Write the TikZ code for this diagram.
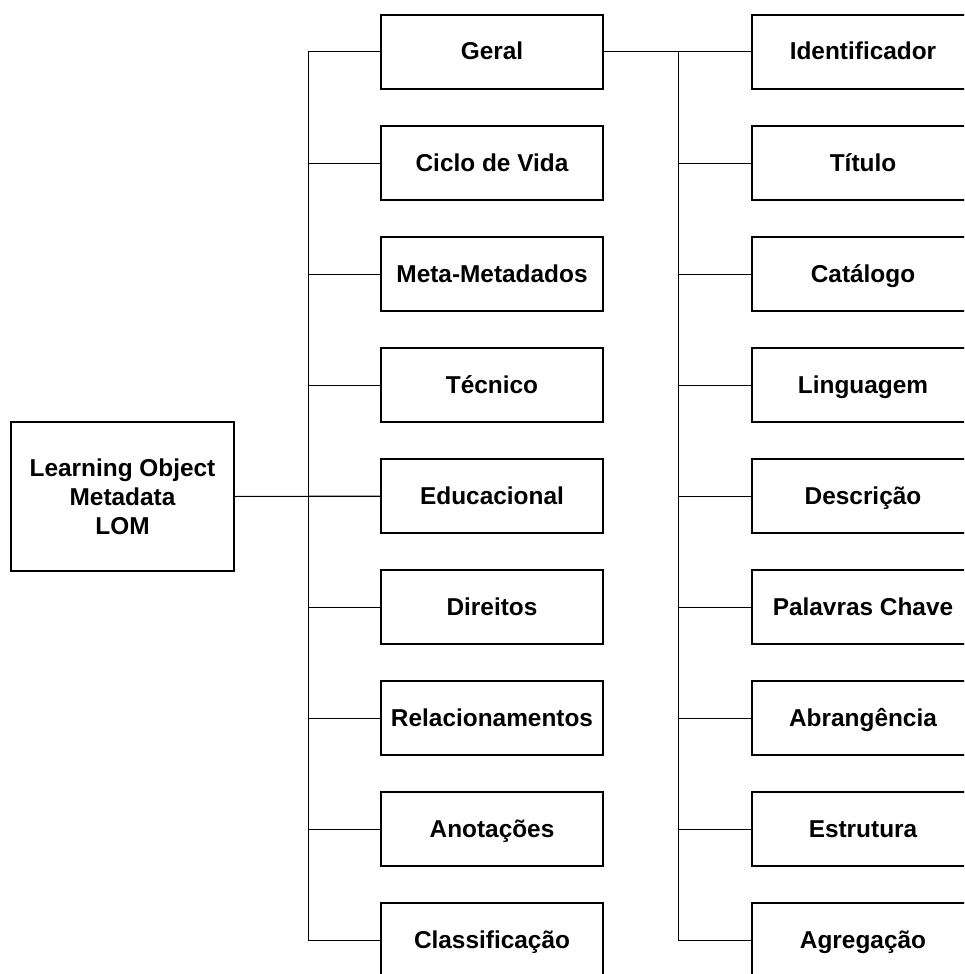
\documentclass[tikz,border=0pt]{standalone}
\usepackage{fontspec}
\setmainfont{Liberation Sans}
\usetikzlibrary{calc}

\begin{document}
\begin{tikzpicture}[x=0.75pt,y=-0.75pt,
		bloco/.style={draw,line width=1.5pt,inner sep=0pt,align=center,font=\bfseries\fontsize{18.3}{21.75}\selectfont},
		caixa/.style={bloco,minimum width=166.5pt,minimum height=55.5pt,text height=14.4pt,text depth=2.4pt},
		ligacao/.style={line width=0.75pt}]
			\useasboundingbox (0,0) rectangle (964,974);
			\clip (0,0) rectangle (964,974);
			
			% raiz
			\node[bloco,minimum width=167.25pt,minimum height=111.75pt] (lom) at (122.5,496.5) {Learning Object\\Metadata\\LOM};
			
			% categorias
			\foreach \txt [count=\i] in {Geral,Ciclo de Vida,Meta-Metadados,T\'ecnico,Educacional,Direitos,Relacionamentos,Anota\c{c}\~oes,Classifica\c{c}\~ao}{
				\node[caixa] (m\i) at (492,{52+111*(\i-1)}) {\txt};
			}
			
			% elementos de Geral
			\foreach \txt [count=\i] in {Identificador,T\'itulo,Cat\'alogo,Linguagem,Descri\c{c}\~ao,Palavras Chave,Abrang\^encia,Estrutura,Agrega\c{c}\~ao}{
				\node[caixa] (r\i) at (863,{52+111*(\i-1)}) {\txt};
			}
			
			% barramentos
			\coordinate (bt) at (308,52);
			\coordinate (bb) at (308,940);
			\coordinate (rt) at (678,52);
			\coordinate (rb) at (678,940);
			\draw[ligacao] (bt) -- (bb);
			\draw[ligacao] (rt) -- (rb);
			
			% ligacoes
			\draw[ligacao] (lom.east) -- (m5.west);
			\draw[ligacao] (m1.east) -- (r1.west);
			\foreach \i in {1,...,9}{
				\draw[ligacao] (m\i.west -| bt) -- (m\i.west);
				\draw[ligacao] (r\i.west -| rt) -- (r\i.west);
			}
		\end{tikzpicture}
\end{document}
